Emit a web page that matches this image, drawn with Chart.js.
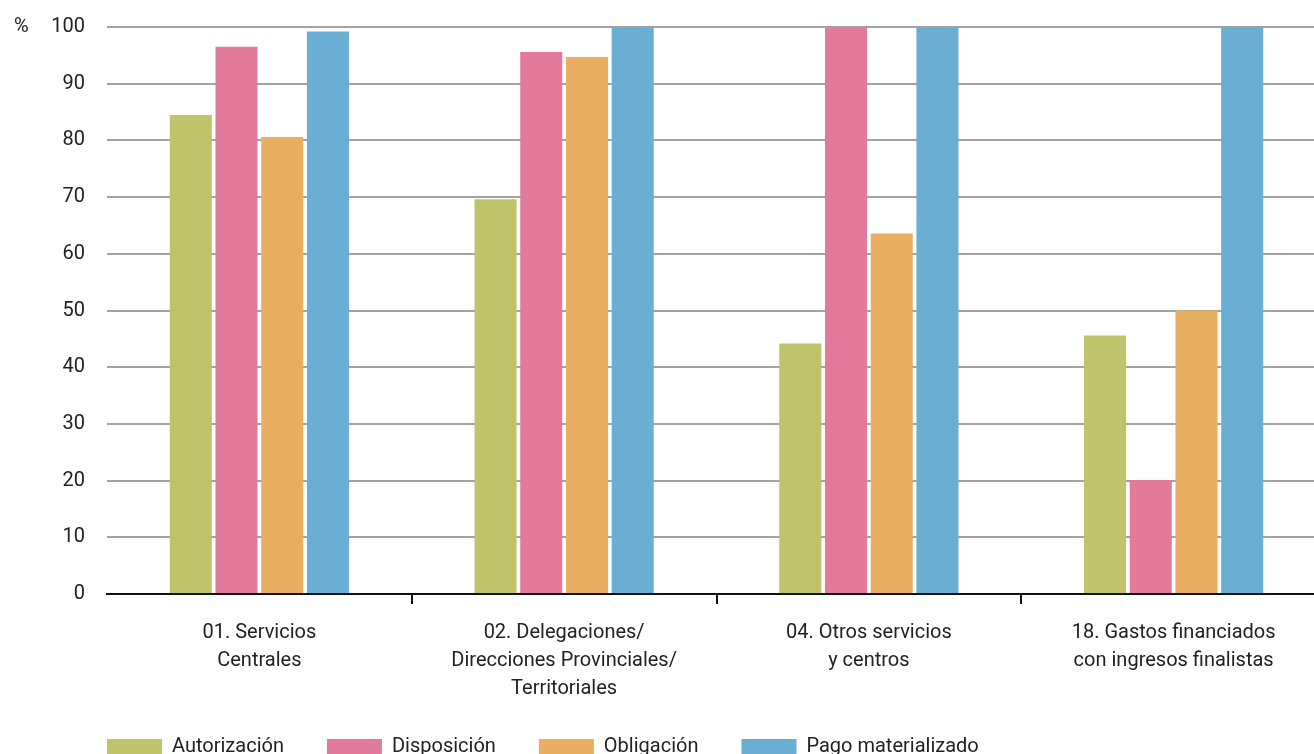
<!DOCTYPE html>
<html>
<head>
<meta charset="utf-8">
<script src="https://cdn.jsdelivr.net/npm/chart.js@4/dist/chart.umd.min.js"></script>
<style>
  html, body { margin: 0; padding: 0; background: #fff; overflow: hidden; }
  #wrap { position: relative; width: 1330px; height: 767px; }
</style>
</head>
<body>
<div id="wrap"><canvas id="c"></canvas></div>
<script>
const categories = [
  ["01. Servicios", "Centrales"],
  ["02. Delegaciones/", "Direcciones Provinciales/", "Territoriales"],
  ["04. Otros servicios", "y centros"],
  ["18. Gastos financiados", "con ingresos finalistas"]
];
const seriesNames = ["Autorización", "Disposición", "Obligación", "Pago materializado"];
const autorizacion = [84.5, 69.6, 44.2, 45.6];
const disposicion = [96.5, 95.6, 100, 20.1];
const obligacion = [80.6, 94.7, 63.6, 50.0];
const pago = [99.2, 100, 100, 100];
const yTicks = [0, 10, 20, 30, 40, 50, 60, 70, 80, 90, 100];
const colors = ["#BEC36C", "#E27A9B", "#E9AE61", "#6AAED3"];

const FONT = "Roboto, 'Open Sans', sans-serif";
const TEXT = "#222";

const percentLabel = {
  id: "percentLabel",
  afterLayout(chart) {
    // start legend row at the same left edge as the plot area
    if (chart.legend) chart.legend.left = 64;
  },
  afterDraw(chart) {
    const y = chart.scales.y.getPixelForValue(100);
    const ctx = chart.ctx;
    ctx.save();
    ctx.font = "20px " + FONT;
    ctx.fillStyle = TEXT;
    ctx.textAlign = "left";
    ctx.textBaseline = "middle";
    ctx.fillText("%", 14, y);
    ctx.restore();
  }
};

const data = {
  labels: categories,
  datasets: [autorizacion, disposicion, obligacion, pago].map((vals, i) => ({
    label: seriesNames[i],
    data: vals,
    backgroundColor: colors[i],
    borderWidth: 0,
    categoryPercentage: 0.6,
    barPercentage: 0.92
  }))
};

new Chart(document.getElementById("c"), {
  type: "bar",
  data,
  plugins: [percentLabel],
  options: {
    responsive: true,
    maintainAspectRatio: false,
    animation: false,
    layout: { padding: { left: 14, right: 4, top: 27, bottom: 0 } },
    plugins: {
      tooltip: { enabled: false },
      legend: {
        position: "bottom",
        align: "start",
        labels: {
          boxWidth: 55,
          boxHeight: 16,
          padding: 43,
          color: TEXT,
          font: { family: FONT, size: 20 }
        }
      }
    },
    scales: {
      x: {
        afterFit(scale) { scale.height = 100; },
        grid: {
          offset: true,
          drawOnChartArea: false,
          drawTicks: true,
          tickLength: 10,
          lineWidth: 2,
          color: (ctx) => (ctx.index === 0 || ctx.index >= categories.length) ? "rgba(0,0,0,0)" : "#111"
        },
        border: { display: true, color: "#111", width: 2 },
        ticks: {
          color: TEXT,
          padding: 15,
          maxRotation: 0,
          autoSkip: false,
          font: { family: FONT, size: 20, lineHeight: 1.4 }
        }
      },
      y: {
        min: 0,
        max: 100,
        afterFit(scale) { scale.width = 93; },
        afterBuildTicks(scale) { scale.ticks = yTicks.map(v => ({ value: v })); },
        grid: {
          drawTicks: true,
          tickLength: 22,
          tickColor: "rgba(0,0,0,0)",
          lineWidth: 2,
          color: "#A3A3A3"
        },
        border: { display: false },
        ticks: {
          color: TEXT,
          padding: 0,
          font: { family: FONT, size: 20 }
        }
      }
    }
  }
});
</script>
</body>
</html>
